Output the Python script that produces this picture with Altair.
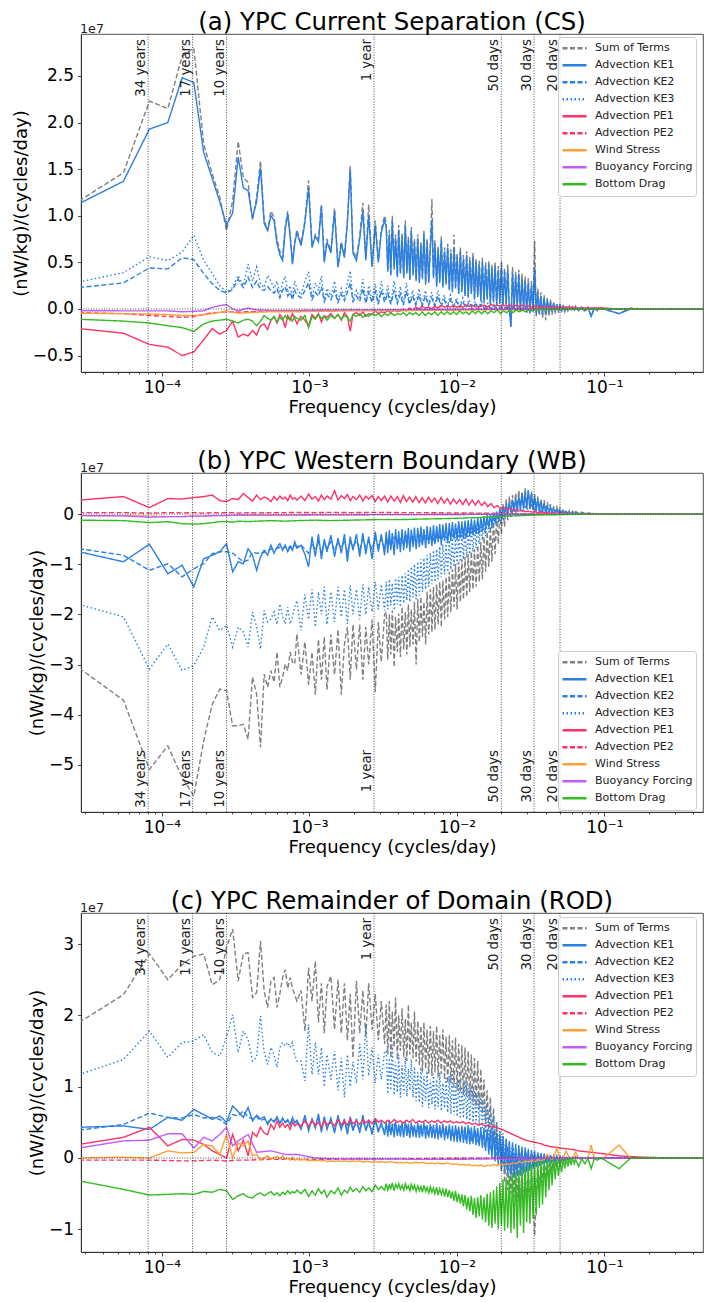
import altair as alt
import pandas as pd

# Spectral energy budget terms, in units of 1e7 (nW/kg)/(cycles/day).
# Frequencies are harmonics k / RECORD_DAYS of a 100-year record.
RECORD_DAYS = 36500.0

K_FINE = [
    1, 2, 3, 4, 5, 6, 7, 8, 9, 10,
    11, 12, 13, 14, 15, 16, 17, 18, 19, 20,
    21, 22, 23, 24, 25, 26, 27, 28, 29, 30,
    32, 34, 36, 38, 40, 42, 44, 46, 48,
    51, 54, 57, 60, 63, 66, 69, 72,
    76, 80, 84, 88, 92, 97, 102, 107, 112, 118,
    124, 130, 137, 144, 151, 158, 166, 174, 183, 192,
    202, 212, 223, 234, 246, 258, 271, 285, 299, 314,
    330, 346, 363, 381, 400, 420, 441, 463, 486, 510,
    536, 563, 591, 621, 652, 685, 719, 755, 793, 833,
    875, 919, 965, 1013, 1064, 1117, 1173, 1232, 1294, 1359,
    1427, 1498, 1573, 1652, 1735, 1822, 1913, 2009, 2109, 2214,
    2325, 2441, 2563, 2691, 2826, 2967, 3115, 3271, 3435, 3607,
    4580, 5500, 7000, 9000, 11500, 14500, 17300,
]
# Denser sampling of the 1/year .. 1/16-day band for the most energetic terms
K_BAND = [
    121, 124, 127, 130, 133, 137, 140, 144, 147, 151,
    155, 159, 163, 167, 171, 175, 179, 184, 188, 193,
    198, 203, 208, 213, 218, 224, 229, 235, 241, 247,
    253, 259, 266, 272, 279, 286, 293, 301, 308, 316,
    324, 332, 340, 349, 357, 366, 375, 385, 394, 404,
    414, 425, 435, 446, 457, 469, 480, 492, 505, 517,
    530, 543, 557, 571, 585, 600, 615, 630, 646, 662,
    679, 696, 713, 731, 749, 768, 787, 807, 827, 848,
    869, 891, 913, 936, 959, 983, 1008, 1033, 1059, 1085,
    1112, 1140, 1169, 1198, 1228, 1259, 1290, 1322, 1355, 1389,
    1424, 1460, 1496, 1534, 1572, 1611, 1652, 1693, 1735, 1779,
    1823, 1869, 1916, 1964, 2013, 2063, 2115, 2168, 2222, 2278,
]
K_DENSE = K_FINE[:57] + K_BAND + K_FINE[117:]
K_COARSE = [1, 2, 3, 4, 5, 6, 7, 8, 9, 10, 11, 12, 14, 16, 20, 25, 30, 40, 50, 70,
            100, 150, 200, 300, 500, 800, 1200, 1800, 2600, 3650, 6000, 17300]

TERMS = ["Sum of Terms", "Advection KE1", "Advection KE2", "Advection KE3",
         "Advection PE1", "Advection PE2", "Wind Stress", "Buoyancy Forcing", "Bottom Drag"]
TERM_COLORS = ["#808080", "#2a7fe2", "#2a7fe2", "#2a7fe2", "#ff3366", "#ff3366",
               "#ffa033", "#bd5cff", "#33bb22"]
TERM_DASHES = [[5, 2.5], [1, 0], [5, 2.5], [1.5, 2.5], [1, 0], [5, 2.5], [1, 0], [1, 0], [1, 0]]

PERIOD_DAYS = [12410, 6205, 3650, 365, 50, 30, 20]
PERIOD_LABELS = ["34 years", "17 years", "10 years", "1 year", "50 days", "30 days", "20 days"]

# ---------------- (a) Current Separation ----------------
A_SUM_LOW = [
    1.16, 1.46, 2.23, 2.15, 2.71, 2.80, 1.77, 1.45, 1.20, 0.84,
    1.16, 1.80, 1.41, 1.36, 0.95, 1.20, 1.59, 0.95, 0.84, 1.05,
    0.98, 0.75, 0.62, 0.55, 0.88, 1.05, 0.80, 0.50, 0.72, 0.85,
    0.70, 0.95, 1.38, 0.68, 0.80, 0.75, 1.12, 0.52, 0.75,
    0.62, 1.08, 0.45, 0.72, 0.58, 0.95, 1.53, 0.62,
    0.55, 0.78, 1.14, 0.55, 1.12, 0.48, 0.95, 0.52, 0.85, 1.00,
]
A_SUM_BAND = [
    0.92, 0.42, 0.85, 0.38, 1.00, 0.45, 0.80, 0.36, 0.90, 0.40,
    0.82, 0.35, 0.95, 0.40, 0.78, 0.33, 0.88, 0.38, 0.75, 0.32,
    0.80, 0.30, 0.72, 0.34, 0.85, 0.28, 0.76, 0.30, 0.70, 1.18,
    0.35, 0.74, 0.26, 0.68, 0.30, 0.78, 0.25, 0.66, 0.28, 0.70,
    0.22, 0.64, 0.20, 0.80, 0.24, 0.60, 0.18, 0.66, 0.20, 0.58,
    0.16, 0.62, 0.14, 0.56, 0.18, 0.60, 0.12, 0.54, 0.15, 0.52,
    0.10, 0.55, 0.08, 0.50, 0.12, 0.52, 0.06, 0.48, 0.09, 0.50,
    0.05, 0.46, 0.07, 0.52, 0.04, 0.44, 0.06, 0.48, 0.02, -0.19,
    0.45, 0.00, 0.40, 0.02, 0.42, -0.03, 0.38, 0.00, 0.35, -0.04,
    0.33, -0.05, 0.30, -0.03, 0.73, -0.08, 0.22, -0.06, 0.18, -0.10,
    0.15, -0.12, 0.12, -0.08, 0.10, -0.06, 0.08, -0.05, 0.06, -0.04,
    0.05, -0.03, 0.04, -0.03, 0.03, -0.02, 0.03, -0.02, 0.02, -0.02,
]
A_SUM_HIGH = [0.03, -0.02, 0.02, -0.03, 0.02, -0.08, 0.01, -0.02, 0.01, 0.00,
              -0.05, 0.01, 0.00, 0.00, 0.00, 0.00, 0.00]

A_KE1_LOW = [
    1.13, 1.37, 1.93, 2.00, 2.48, 2.43, 1.68, 1.40, 1.15, 0.90,
    1.03, 1.63, 1.30, 1.27, 0.98, 1.15, 1.52, 0.92, 0.84, 1.00,
    0.95, 0.70, 0.58, 0.52, 0.85, 1.02, 0.78, 0.48, 0.70, 0.82,
    0.68, 0.92, 1.30, 0.66, 0.78, 0.72, 1.10, 0.50, 0.72,
    0.60, 1.05, 0.45, 0.70, 0.55, 0.92, 1.50, 0.60,
    0.52, 0.75, 1.05, 0.52, 1.00, 0.45, 0.90, 0.50, 0.82, 0.95,
]
A_KE1_BAND = [
    0.88, 0.40, 0.80, 0.36, 0.95, 0.42, 0.76, 0.34, 0.85, 0.38,
    0.78, 0.33, 0.90, 0.38, 0.74, 0.31, 0.84, 0.36, 0.72, 0.30,
    0.76, 0.28, 0.68, 0.32, 0.80, 0.26, 0.72, 0.28, 0.66, 0.95,
    0.33, 0.70, 0.24, 0.64, 0.28, 0.74, 0.23, 0.62, 0.26, 0.66,
    0.20, 0.60, 0.18, 0.65, 0.22, 0.56, 0.16, 0.62, 0.18, 0.54,
    0.14, 0.58, 0.12, 0.52, 0.16, 0.56, 0.10, 0.50, 0.13, 0.48,
    0.08, 0.50, 0.06, 0.46, 0.10, 0.48, 0.05, 0.44, 0.07, 0.46,
    0.04, 0.42, 0.05, 0.46, 0.03, 0.40, 0.04, 0.42, 0.01, -0.19,
    0.40, -0.01, 0.36, 0.01, 0.38, -0.03, 0.33, -0.01, 0.30, -0.04,
    0.28, -0.04, 0.25, -0.03, 0.45, -0.06, 0.18, -0.05, 0.14, -0.06,
    0.12, -0.05, 0.10, -0.04, 0.08, -0.03, 0.06, -0.03, 0.05, -0.02,
    0.04, -0.02, 0.03, -0.02, 0.02, -0.01, 0.02, -0.01, 0.02, -0.01,
]
A_KE1_HIGH = [0.02, -0.01, 0.02, -0.02, 0.01, -0.08, 0.01, -0.01, 0.01, 0.00,
              -0.05, 0.00, 0.00, 0.00, 0.00, 0.00, 0.00]

A_KE2 = [
    0.23, 0.28, 0.44, 0.43, 0.55, 0.53, 0.38, 0.27, 0.20, 0.17,
    0.21, 0.32, 0.23, 0.34, 0.23, 0.30, 0.21, 0.20, 0.24, 0.20,
    0.17, 0.22, 0.12, 0.20, 0.24, 0.14, 0.18, 0.10, 0.20, 0.15,
    0.12, 0.20, 0.28, 0.10, 0.18, 0.14, 0.24, 0.08, 0.16,
    0.10, 0.20, 0.07, 0.16, 0.09, 0.18, 0.28, 0.08,
    0.14, 0.08, 0.22, 0.06, 0.18, 0.07, 0.19, 0.05, 0.20, 0.07,
    0.17, 0.05, 0.20, 0.06, 0.16, 0.04, 0.19, 0.05, 0.14, 0.04,
    0.15, 0.03, 0.14, 0.04, 0.12, 0.03, 0.14, 0.03, 0.10, 0.02,
    0.10, 0.02, 0.08, 0.02, 0.08, 0.01, 0.07, 0.01, 0.05, 0.01,
    0.05, 0.00, 0.04, 0.00, 0.03, 0.00, 0.03, 0.00, 0.02, 0.00,
    0.02, 0.00, 0.01, 0.00, 0.01, 0.00, 0.01, 0.00, 0.01, 0.00,
    0.00, 0.00, 0.00, 0.00, 0.00, 0.00, 0.00, 0.00, 0.00, 0.00,
    0.00, 0.00, 0.00, 0.00, 0.00, 0.00, 0.00, 0.00, 0.00, 0.00,
    0.00, 0.00, 0.00, 0.00, 0.00, 0.00, 0.00,
]
A_KE3 = [
    0.29, 0.39, 0.56, 0.52, 0.61, 0.79, 0.52, 0.38, 0.25, 0.18,
    0.23, 0.36, 0.25, 0.48, 0.30, 0.45, 0.27, 0.23, 0.36, 0.30,
    0.22, 0.30, 0.15, 0.28, 0.35, 0.18, 0.25, 0.12, 0.30, 0.22,
    0.15, 0.30, 0.40, 0.12, 0.28, 0.20, 0.35, 0.10, 0.22,
    0.14, 0.30, 0.08, 0.22, 0.12, 0.28, 0.41, 0.10,
    0.20, 0.12, 0.32, 0.08, 0.25, 0.10, 0.27, 0.06, 0.30, 0.10,
    0.25, 0.06, 0.30, 0.08, 0.24, 0.05, 0.28, 0.06, 0.20, 0.05,
    0.22, 0.04, 0.20, 0.05, 0.18, 0.03, 0.20, 0.04, 0.15, 0.03,
    0.15, 0.02, 0.12, 0.03, 0.12, 0.02, 0.10, 0.02, 0.08, 0.01,
    0.08, 0.01, 0.06, 0.00, 0.05, 0.01, 0.04, 0.00, 0.03, 0.00,
    0.03, 0.00, 0.02, 0.00, 0.02, 0.00, 0.01, 0.00, 0.01, 0.00,
    0.01, 0.00, 0.00, 0.00, 0.00, 0.00, 0.00, 0.00, 0.00, 0.00,
    0.00, 0.00, 0.00, 0.00, 0.00, 0.00, 0.00, 0.00, 0.00, 0.00,
    0.00, 0.00, 0.00, 0.00, 0.00, 0.00, 0.00,
]
A_PE1 = [
    -0.21, -0.26, -0.38, -0.41, -0.50, -0.46, -0.33, -0.21, -0.27, -0.23,
    -0.13, -0.30, -0.27, -0.29, -0.23, -0.28, -0.18, -0.16, -0.22, -0.12,
    -0.08, -0.15, -0.06, -0.10, -0.20, -0.07, -0.12, -0.05, -0.10, -0.16,
    -0.08, -0.12, -0.18, -0.06, -0.10, -0.05, -0.14, -0.07, -0.09,
    -0.05, -0.10, -0.06, -0.12, -0.04, -0.08, -0.24, -0.06,
    -0.04, -0.07, -0.03, -0.08, -0.05, -0.06, -0.02, -0.05, -0.03, -0.04,
    -0.02, -0.04, -0.01, -0.03, -0.02, 0.00, -0.02, 0.01, -0.01, 0.02,
    0.00, 0.03, 0.01, 0.02, 0.00, 0.03, 0.01, 0.04, 0.02, 0.03,
    0.02, 0.04, 0.02, 0.03, 0.02, 0.04, 0.03, 0.04, 0.02, 0.03,
    0.03, 0.04, 0.02, 0.05, 0.03, 0.04, 0.03, 0.04, 0.03, 0.04,
    0.03, 0.04, 0.03, 0.04, 0.03, 0.03, 0.02, 0.03, 0.03, 0.02,
    0.02, 0.03, 0.02, 0.02, 0.02, 0.02, 0.02, 0.02, 0.02, 0.02,
    0.01, 0.01, 0.01, 0.01, 0.01, 0.01, 0.01, 0.01, 0.01, 0.01,
    0.00, 0.00, 0.00, 0.00, 0.00, 0.00, 0.00,
]
A_DRAG = [
    -0.11, -0.13, -0.15, -0.18, -0.20, -0.24, -0.16, -0.13, -0.12, -0.11,
    -0.13, -0.15, -0.12, -0.11, -0.13, -0.18, -0.13, -0.07, -0.10, -0.12,
    -0.08, -0.14, -0.09, -0.12, -0.07, -0.11, -0.09, -0.13, -0.08, -0.10,
    -0.12, -0.07, -0.20, -0.08, -0.11, -0.06, -0.10, -0.08, -0.12,
    -0.07, -0.10, -0.06, -0.11, -0.07, -0.09, -0.13, -0.06,
    -0.08, -0.05, -0.09, -0.06, -0.08, -0.05, -0.07, -0.05, -0.08, -0.05,
    -0.07, -0.04, -0.07, -0.05, -0.06, -0.04, -0.07, -0.04, -0.06, -0.04,
    -0.07, -0.03, -0.07, -0.04, -0.06, -0.03, -0.07, -0.03, -0.06, -0.03,
    -0.06, -0.03, -0.06, -0.02, -0.05, -0.03, -0.06, -0.02, -0.05, -0.02,
    -0.05, -0.02, -0.05, -0.02, -0.04, -0.01, -0.05, -0.02, -0.04, -0.01,
    -0.04, -0.01, -0.03, -0.01, -0.03, -0.01, -0.02, 0.00, -0.02, 0.00,
    -0.01, 0.00, -0.01, 0.00, 0.00, 0.00, 0.00, 0.00, 0.00, 0.00,
    0.00, 0.00, 0.00, 0.00, 0.00, 0.00, 0.00, 0.00, 0.00, 0.00,
    0.00, 0.00, 0.00, 0.00, 0.00, 0.00, 0.00,
]
A_PE2 = [-0.04, -0.05, -0.07, -0.08, -0.09, -0.08, -0.06, -0.04, -0.035, -0.03,
         -0.03, -0.035, -0.03, -0.025, -0.02, -0.02, -0.02, -0.015, -0.015, -0.01,
         -0.01, -0.01, -0.005, -0.005, 0.0, 0.0, 0.0, 0.0, 0.0, 0.0, 0.0, 0.0]
A_WIND = [-0.046, -0.05, -0.054, -0.06, -0.07, -0.07, -0.06, -0.05, -0.036, -0.02,
          -0.035, -0.045, -0.04, -0.035, -0.03, -0.03, -0.03, -0.025, -0.025, -0.02,
          -0.02, -0.02, -0.015, -0.015, -0.01, -0.01, -0.005, -0.005, 0.0, 0.0, 0.0, 0.0]
A_BUOY = [-0.018, -0.02, -0.02, -0.02, -0.03, -0.025, -0.02, 0.018, 0.036, 0.046,
          0.0, -0.02, 0.01, -0.01, -0.015, -0.015, -0.015, -0.012, -0.01, -0.01,
          -0.01, -0.008, -0.006, -0.005, -0.004, -0.003, -0.002, 0.0, 0.0, 0.0, 0.0, 0.0]

# ---------------- (b) Western Boundary ----------------
B_SUM_LOW = [
    -3.07, -3.71, -5.09, -4.62, -5.25, -5.62, -4.52, -3.79, -3.49, -3.52,
    -4.22, -4.22, -4.19, -4.49, -3.25, -3.59, -4.65, -3.19, -3.45, -3.12,
    -3.35, -2.75, -3.45, -3.25, -2.99, -3.12, -2.75, -2.95, -2.99, -2.39,
    -3.20, -2.55, -3.40, -2.75, -3.60, -2.50, -3.30, -2.45, -3.50,
    -2.40, -3.20, -2.30, -3.60, -2.60, -2.25, -3.30, -2.20,
    -3.10, -2.20, -3.30, -2.25, -3.00, -2.10, -3.55, -2.15, -2.95, -2.00,
]
B_SUM_BAND = [
    -1.95, -2.90, -2.00, -2.80, -1.92, -3.05, -2.05, -2.75, -1.98, -2.85,
    -1.85, -2.70, -1.95, -2.80, -1.80, -2.65, -1.90, -2.60, -1.75, -3.00,
    -1.70, -2.55, -1.65, -2.45, -1.75, -2.60, -1.55, -2.40, -1.50, -2.35,
    -1.45, -2.30, -1.40, -2.20, -1.35, -2.25, -1.32, -2.10, -1.25, -2.05,
    -1.15, -1.95, -1.10, -1.85, -1.00, -1.90, -0.95, -1.75, -0.90, -1.70,
    -0.85, -1.65, -0.80, -1.55, -0.75, -1.50, -0.70, -1.45, -0.62, -1.35,
    -0.55, -1.30, -0.45, -1.15, -0.35, -1.05, -0.25, -0.95, -0.15, -0.80,
    -0.05, -0.60, 0.10, -0.40, 0.20, -0.25, 0.30, -0.12, 0.35, -0.05,
    0.38, 0.05, 0.42, 0.08, 0.48, 0.10, 0.45, 0.12, 0.52, 0.15,
    0.48, 0.12, 0.45, 0.10, 0.40, 0.08, 0.35, 0.06, 0.30, 0.05,
    0.28, 0.04, 0.24, 0.05, 0.20, 0.03, 0.16, 0.04, 0.14, 0.02,
    0.12, 0.03, 0.10, 0.02, 0.08, 0.02, 0.07, 0.01, 0.06, 0.01,
]
B_SUM_HIGH = [0.05, 0.02, 0.04, 0.01, 0.03, 0.01, 0.02, 0.01, 0.01, 0.00,
              0.00, 0.00, 0.00, 0.00, 0.00, 0.00, 0.00]

B_KE1_LOW = [
    -0.75, -0.95, -0.60, -1.19, -1.02, -1.45, -0.89, -0.82, -0.75, -0.59,
    -1.15, -0.95, -0.99, -0.69, -0.82, -1.12, -0.85, -0.72, -0.82, -0.62,
    -0.78, -0.66, -0.59, -0.72, -0.62, -0.75, -0.65, -0.72, -0.55, -0.68,
    -0.62, -0.80, -1.05, -0.45, -0.85, -0.40, -0.90, -0.50, -0.75,
    -0.42, -0.85, -0.48, -0.78, -0.40, -0.95, -0.45, -0.72,
    -0.40, -0.85, -0.38, -0.80, -0.45, -0.90, -0.35, -0.75, -0.40, -0.82,
]
B_KE1_BAND = [
    -0.35, -0.78, -0.32, -0.72, -0.38, -0.82, -0.30, -0.70, -0.34, -0.76,
    -0.30, -0.72, -0.33, -0.68, -0.28, -0.75, -0.31, -0.66, -0.27, -0.70,
    -0.28, -0.66, -0.25, -0.62, -0.30, -0.68, -0.24, -0.60, -0.26, -0.64,
    -0.22, -0.60, -0.24, -0.56, -0.20, -0.62, -0.21, -0.54, -0.18, -0.58,
    -0.18, -0.54, -0.16, -0.50, -0.19, -0.52, -0.14, -0.48, -0.15, -0.50,
    -0.13, -0.46, -0.12, -0.44, -0.10, -0.42, -0.11, -0.40, -0.08, -0.38,
    -0.06, -0.35, -0.04, -0.30, -0.02, -0.26, 0.00, -0.20, 0.03, -0.15,
    0.05, -0.10, 0.10, -0.05, 0.15, 0.00, 0.20, 0.02, 0.25, 0.04,
    0.28, 0.05, 0.32, 0.06, 0.36, 0.08, 0.40, 0.10, 0.44, 0.12,
    0.48, 0.10, 0.42, 0.08, 0.36, 0.06, 0.30, 0.05, 0.26, 0.04,
    0.22, 0.03, 0.18, 0.03, 0.14, 0.02, 0.11, 0.02, 0.09, 0.01,
    0.07, 0.01, 0.06, 0.01, 0.05, 0.00, 0.04, 0.00, 0.03, 0.00,
]
B_KE1_HIGH = [0.04, 0.00, 0.03, 0.00, 0.02, 0.00, 0.01, 0.00, 0.01, 0.00,
              0.00, 0.00, 0.00, 0.00, 0.00, 0.00, 0.00]

B_KE2 = [
    -0.69, -0.82, -1.12, -0.99, -1.25, -1.09, -0.99, -0.79, -0.75, -0.75,
    -0.78, -0.87, -0.95, -0.92, -0.76, -0.78, -0.78, -0.76, -0.72, -0.70,
    -0.70, -0.68, -0.66, -0.68, -0.65, -0.70, -0.64, -0.66, -0.63, -0.65,
    -0.62, -0.70, -0.78, -0.58, -0.72, -0.55, -0.75, -0.58, -0.68,
    -0.55, -0.72, -0.56, -0.68, -0.52, -0.75, -0.55, -0.66,
    -0.52, -0.70, -0.50, -0.66, -0.54, -0.70, -0.48, -0.64, -0.50, -0.66,
    -0.48, -0.64, -0.46, -0.60, -0.50, -0.62, -0.44, -0.58, -0.46, -0.60,
    -0.42, -0.58, -0.40, -0.54, -0.43, -0.55, -0.38, -0.52, -0.40, -0.50,
    -0.33, -0.48, -0.30, -0.44, -0.28, -0.45, -0.26, -0.40, -0.24, -0.38,
    -0.22, -0.34, -0.18, -0.28, -0.12, -0.20, -0.05, -0.10, 0.02, -0.02,
    0.08, 0.04, 0.12, 0.06, 0.15, 0.08, 0.18, 0.08, 0.12, 0.05,
    0.08, 0.03, 0.06, 0.02, 0.05, 0.02, 0.03, 0.01, 0.02, 0.01,
    0.01, 0.00, 0.00, 0.00, 0.00, 0.00, 0.00, 0.00, 0.00, 0.00,
    0.00, 0.00, 0.00, 0.00, 0.00, 0.00, 0.00,
]

B_KE3_LOW = [
    -1.80, -2.05, -3.09, -2.59, -3.12, -3.02, -2.65, -2.05, -2.32, -2.22,
    -2.65, -2.25, -2.35, -2.65, -1.95, -2.25, -2.69, -1.92, -2.15, -2.09,
    -1.95, -2.20, -1.79, -2.05, -2.19, -1.85, -2.19, -2.05, -1.85, -1.72,
    -2.32, -1.60, -2.10, -1.50, -2.25, -1.55, -2.00, -1.45, -2.20,
    -1.55, -2.15, -1.45, -2.05, -1.50, -2.19, -1.42, -2.00,
    -1.50, -2.10, -1.40, -2.00, -1.45, -1.95, -1.35, -1.90, -1.40, -1.92,
]
B_KE3_BAND = [
    -1.35, -1.90, -1.30, -1.82, -1.38, -1.92, -1.28, -1.80, -1.25, -1.85,
    -1.22, -1.78, -1.18, -1.72, -1.10, -1.75, -1.05, -1.66, -1.00, -1.70,
    -0.95, -1.62, -0.90, -1.55, -0.88, -1.50, -0.82, -1.45, -0.78, -1.40,
    -0.72, -1.35, -0.70, -1.30, -0.65, -1.26, -0.60, -1.20, -0.55, -1.15,
    -0.52, -1.10, -0.48, -1.05, -0.45, -1.00, -0.40, -0.95, -0.36, -0.90,
    -0.32, -0.86, -0.28, -0.80, -0.25, -0.75, -0.22, -0.68, -0.18, -0.60,
    -0.14, -0.52, -0.10, -0.44, -0.08, -0.36, -0.05, -0.28, -0.03, -0.20,
    -0.02, -0.14, 0.00, -0.10, 0.01, -0.06, 0.02, -0.05, 0.01, -0.04,
    0.02, -0.03, 0.02, -0.02, 0.01, -0.02, 0.01, -0.01, 0.01, -0.01,
    0.01, -0.01, 0.00, -0.01, 0.00, 0.00, 0.00, 0.00, 0.00, 0.00,
    0.00, 0.00, 0.00, 0.00, 0.00, 0.00, 0.00, 0.00, 0.00, 0.00,
    0.00, 0.00, 0.00, 0.00, 0.00, 0.00, 0.00, 0.00, 0.00, 0.00,
]
B_KE3_HIGH = [0.00] * 17

B_PE1 = [
    0.28, 0.35, 0.13, 0.31, 0.30, 0.33, 0.35, 0.38, 0.27, 0.25,
    0.31, 0.29, 0.41, 0.33, 0.26, 0.38, 0.29, 0.34, 0.31, 0.25,
    0.35, 0.28, 0.36, 0.30, 0.34, 0.27, 0.38, 0.30, 0.33, 0.28,
    0.36, 0.27, 0.40, 0.30, 0.35, 0.26, 0.38, 0.29, 0.36,
    0.30, 0.47, 0.28, 0.37, 0.31, 0.39, 0.27, 0.35,
    0.29, 0.38, 0.26, 0.36, 0.30, 0.37, 0.25, 0.35, 0.27, 0.36,
    0.24, 0.36, 0.26, 0.35, 0.23, 0.37, 0.25, 0.34, 0.24, 0.35,
    0.23, 0.33, 0.22, 0.34, 0.24, 0.32, 0.21, 0.33, 0.22, 0.31,
    0.20, 0.30, 0.21, 0.29, 0.19, 0.30, 0.18, 0.28, 0.18, 0.27,
    0.17, 0.24, 0.15, 0.21, 0.13, 0.17, 0.11, 0.14, 0.09, 0.11,
    0.08, 0.09, 0.06, 0.07, 0.05, 0.06, 0.04, 0.05, 0.03, 0.04,
    0.03, 0.03, 0.02, 0.02, 0.02, 0.02, 0.01, 0.01, 0.01, 0.01,
    0.01, 0.01, 0.01, 0.01, 0.01, 0.00, 0.00, 0.00, 0.00, 0.00,
    0.00, 0.00, 0.00, 0.00, 0.00, 0.00, 0.00,
]
B_PE2 = [0.03, 0.03, 0.02, 0.03, 0.025, 0.03, 0.02, 0.03, 0.025, 0.03,
         0.03, 0.02, 0.03, 0.025, 0.03, 0.03, 0.035, 0.03, 0.035, 0.03,
         0.035, 0.03, 0.03, 0.025, 0.02, 0.01, 0.005, 0.0, 0.0, 0.0, 0.0, 0.0]
B_WIND = [-0.03, -0.03, -0.04, -0.05, -0.05, -0.04, -0.04, -0.03, -0.03, -0.025,
          -0.025, -0.02, -0.02, -0.02, -0.02, -0.02, -0.02, -0.015, -0.015, -0.015,
          -0.01, -0.01, -0.01, -0.008, -0.005, -0.003, -0.001, 0.0, 0.0, 0.0, 0.0, 0.0]
B_BUOY = [-0.03, -0.035, -0.06, -0.05, -0.05, -0.04, -0.04, -0.03, -0.03, -0.03,
          -0.025, -0.025, -0.02, -0.02, -0.02, -0.02, -0.02, -0.015, -0.015, -0.015,
          -0.01, -0.01, -0.01, -0.008, -0.005, -0.003, -0.001, 0.0, 0.0, 0.0, 0.0, 0.0]
B_DRAG = [-0.12, -0.13, -0.17, -0.15, -0.19, -0.20, -0.19, -0.17, -0.15, -0.15,
          -0.16, -0.14, -0.15, -0.14, -0.13, -0.14, -0.13, -0.12, -0.13, -0.12,
          -0.11, -0.11, -0.10, -0.09, -0.07, -0.04, -0.02, -0.01, 0.0, 0.0, 0.0, 0.0]

# ---------------- (c) Remainder of Domain ----------------
C_SUM_LOW = [
    1.90, 2.29, 2.86, 2.50, 2.71, 2.83, 2.86, 2.43, 2.50, 2.95,
    3.21, 2.48, 2.86, 2.88, 2.25, 2.32, 3.04, 2.34, 2.11, 2.48,
    2.53, 2.11, 2.30, 2.53, 2.64, 2.38, 2.53, 2.38, 2.29, 2.20,
    2.35, 1.78, 2.67, 2.20, 2.76, 1.90, 2.45, 1.75, 2.40,
    2.55, 1.80, 2.50, 1.75, 2.45, 1.65, 2.30, 1.40,
    2.48, 1.75, 2.35, 1.70, 2.45, 1.80, 2.30, 1.65, 2.20, 1.60,
]
C_SUM_BAND = [
    2.15, 1.45, 2.20, 1.40, 2.05, 1.55, 2.25, 1.38, 2.00, 1.50,
    2.10, 1.42, 1.95, 1.36, 2.15, 1.45, 1.90, 1.40, 2.05, 1.35,
    1.92, 1.30, 1.85, 1.20, 1.90, 1.25, 1.80, 1.18, 1.85, 1.15,
    1.78, 1.20, 1.85, 1.13, 1.72, 1.18, 1.80, 1.10, 1.70, 1.05,
    1.72, 1.05, 1.65, 1.00, 1.69, 0.95, 1.60, 0.92, 1.58, 0.88,
    1.55, 0.86, 1.50, 0.82, 1.45, 0.78, 1.40, 0.72, 1.36, 0.68,
    1.25, 0.62, 1.10, 0.50, 0.95, 0.40, 0.85, 0.25, 0.70, 0.15,
    0.50, -0.05, 0.35, -0.20, 0.20, -0.35, 0.10, -0.45, 0.05, -0.50,
    0.05, -0.55, 0.00, -0.62, -0.05, -0.70, -0.08, -0.72, -0.10, -0.65,
    -0.12, -0.70, -0.15, -0.60, -1.09, -0.55, -0.10, -0.45, -0.05, -0.35,
    0.02, -0.30, 0.03, -0.25, 0.04, -0.18, 0.03, -0.12, 0.02, -0.08,
    0.02, -0.05, 0.02, -0.04, 0.01, -0.03, 0.01, -0.02, 0.01, -0.02,
]
C_SUM_HIGH = [0.02, -0.03, 0.01, -0.02, 0.01, -0.01, 0.01, -0.01, 0.00, 0.00,
              0.00, 0.00, 0.00, 0.00, 0.00, 0.00, 0.00]

C_KE1_LOW = [
    0.43, 0.45, 0.40, 0.57, 0.53, 0.68, 0.61, 0.54, 0.59, 0.50,
    0.73, 0.65, 0.57, 0.71, 0.52, 0.60, 0.55, 0.58, 0.47, 0.55,
    0.50, 0.58, 0.48, 0.56, 0.50, 0.54, 0.46, 0.57, 0.49, 0.53,
    0.40, 0.60, 0.38, 0.55, 0.42, 0.62, 0.36, 0.58, 0.40,
    0.56, 0.35, 0.60, 0.40, 0.55, 0.33, 0.58, 0.38,
    0.55, 0.35, 0.60, 0.38, 0.52, 0.33, 0.56, 0.36, 0.50, 0.32,
]
C_KE1_BAND = [
    0.50, 0.30, 0.53, 0.32, 0.48, 0.29, 0.51, 0.31, 0.47, 0.30,
    0.50, 0.29, 0.52, 0.31, 0.48, 0.28, 0.50, 0.30, 0.46, 0.29,
    0.49, 0.28, 0.47, 0.30, 0.50, 0.27, 0.46, 0.29, 0.48, 0.28,
    0.47, 0.27, 0.49, 0.26, 0.46, 0.28, 0.48, 0.25, 0.45, 0.27,
    0.47, 0.24, 0.45, 0.23, 0.46, 0.22, 0.44, 0.22, 0.45, 0.21,
    0.44, 0.20, 0.46, 0.19, 0.43, 0.20, 0.45, 0.18, 0.42, 0.17,
    0.43, 0.14, 0.42, 0.10, 0.41, 0.05, 0.40, 0.00, 0.38, -0.05,
    0.35, -0.10, 0.32, -0.15, 0.30, -0.18, 0.26, -0.22, 0.24, -0.25,
    0.22, -0.28, 0.20, -0.26, 0.18, -0.25, 0.16, -0.22, 0.15, -0.20,
    0.13, -0.18, 0.11, -0.15, 0.10, -0.13, 0.08, -0.11, 0.07, -0.09,
    0.06, -0.07, 0.05, -0.06, 0.04, -0.05, 0.03, -0.04, 0.03, -0.03,
    0.02, -0.02, 0.02, -0.02, 0.01, -0.01, 0.01, -0.01, 0.01, 0.00,
]
C_KE1_HIGH = [0.01, 0.00, 0.00, 0.00, 0.00, 0.00, 0.00, 0.00, 0.00, 0.00,
              0.00, 0.00, 0.00, 0.00, 0.00, 0.00, 0.00]

C_KE2 = [
    0.39, 0.47, 0.63, 0.57, 0.56, 0.61, 0.56, 0.57, 0.54, 0.47,
    0.61, 0.59, 0.66, 0.57, 0.55, 0.58, 0.52, 0.55, 0.50, 0.54,
    0.52, 0.55, 0.50, 0.53, 0.50, 0.52, 0.49, 0.53, 0.50, 0.51,
    0.44, 0.54, 0.42, 0.52, 0.45, 0.55, 0.41, 0.52, 0.44,
    0.50, 0.40, 0.52, 0.42, 0.50, 0.39, 0.51, 0.41,
    0.49, 0.40, 0.52, 0.41, 0.48, 0.38, 0.50, 0.40, 0.46, 0.37,
    0.46, 0.35, 0.47, 0.36, 0.44, 0.34, 0.45, 0.35, 0.43, 0.34,
    0.44, 0.33, 0.43, 0.32, 0.44, 0.33, 0.41, 0.32, 0.42, 0.31,
    0.40, 0.28, 0.39, 0.27, 0.38, 0.25, 0.39, 0.23, 0.36, 0.22,
    0.35, 0.18, 0.32, 0.10, 0.30, 0.02, 0.22, -0.08, 0.18, -0.12,
    0.14, -0.15, 0.12, -0.16, 0.10, -0.12, 0.07, -0.09, 0.05, -0.06,
    0.03, -0.04, 0.02, -0.03, 0.02, -0.02, 0.01, -0.01, 0.01, 0.00,
    0.00, 0.00, 0.00, 0.00, 0.00, 0.00, 0.00, 0.00, 0.00, 0.00,
    0.00, 0.00, 0.00, 0.00, 0.00, 0.00, 0.00,
]

C_KE3_LOW = [
    1.17, 1.38, 1.78, 1.41, 1.62, 1.64, 1.73, 1.48, 1.43, 1.69,
    2.01, 1.48, 1.78, 1.66, 1.36, 1.41, 1.99, 1.48, 1.31, 1.55,
    1.45, 1.27, 1.55, 1.62, 1.57, 1.62, 1.55, 1.62, 1.45, 1.36,
    1.36, 1.08, 1.87, 1.17, 1.62, 1.17, 1.55, 1.00, 1.45,
    1.10, 1.50, 0.95, 1.40, 0.85, 1.45, 1.00, 1.35,
    1.05, 1.60, 1.10, 1.87, 1.15, 1.55, 1.05, 1.45, 1.10, 1.50,
]
C_KE3_BAND = [
    1.50, 0.90, 1.40, 0.95, 1.59, 0.88, 1.35, 0.92, 1.45, 0.85,
    1.30, 0.90, 1.42, 0.86, 1.25, 0.95, 1.38, 0.85, 1.28, 0.80,
    1.20, 0.78, 1.27, 0.72, 1.15, 0.80, 1.22, 0.70, 1.10, 0.75,
    1.18, 0.68, 1.10, 0.72, 1.20, 0.66, 1.05, 0.70, 1.12, 0.64,
    1.15, 0.62, 1.22, 0.60, 1.05, 0.58, 1.10, 0.55, 1.00, 0.56,
    1.08, 0.54, 0.98, 0.52, 1.02, 0.50, 0.95, 0.48, 0.92, 0.45,
    0.88, 0.40, 0.82, 0.35, 0.75, 0.30, 0.68, 0.25, 0.60, 0.20,
    0.50, 0.12, 0.42, 0.08, 0.35, 0.04, 0.28, 0.00, 0.22, -0.03,
    0.18, -0.05, 0.14, -0.06, 0.10, -0.04, 0.08, -0.03, 0.06, -0.02,
    0.05, -0.02, 0.04, -0.01, 0.03, -0.01, 0.02, 0.00, 0.01, 0.00,
    0.01, 0.00, 0.01, 0.00, 0.00, 0.00, 0.00, 0.00, 0.00, 0.00,
    0.00, 0.00, 0.00, 0.00, 0.00, 0.00, 0.00, 0.00, 0.00, 0.00,
]
C_KE3_HIGH = [0.00] * 17

C_PE1 = [
    0.19, 0.29, 0.43, 0.17, 0.26, 0.25, 0.19, 0.10, 0.05, 0.00,
    0.33, 0.10, 0.25, 0.03, 0.36, 0.30, 0.43, 0.35, 0.33, 0.47,
    0.40, 0.52, 0.43, 0.49, 0.43, 0.47, 0.40, 0.50, 0.45, 0.48,
    0.45, 0.52, 0.44, 0.53, 0.46, 0.50, 0.43, 0.52, 0.47,
    0.50, 0.45, 0.54, 0.47, 0.52, 0.46, 0.55, 0.48,
    0.52, 0.47, 0.54, 0.49, 0.53, 0.48, 0.55, 0.50, 0.53, 0.49,
    0.53, 0.49, 0.54, 0.50, 0.52, 0.49, 0.53, 0.50, 0.54, 0.49,
    0.52, 0.50, 0.53, 0.49, 0.52, 0.50, 0.53, 0.49, 0.52, 0.50,
    0.52, 0.49, 0.51, 0.49, 0.51, 0.48, 0.50, 0.47, 0.49, 0.46,
    0.48, 0.45, 0.46, 0.44, 0.44, 0.42, 0.41, 0.39, 0.37, 0.35,
    0.33, 0.31, 0.29, 0.27, 0.25, 0.24, 0.23, 0.22, 0.21, 0.20,
    0.18, 0.17, 0.16, 0.155, 0.15, 0.14, 0.135, 0.13, 0.125, 0.12,
    0.11, 0.10, 0.095, 0.09, 0.085, 0.08, 0.075, 0.07, 0.065, 0.06,
    0.03, 0.02, 0.01, 0.004, 0.001, 0.00, 0.00,
]
C_WIND = [
    0.00, 0.01, 0.00, 0.10, 0.07, 0.08, 0.19, 0.17, 0.05, 0.33,
    0.00, 0.21, 0.17, 0.24, 0.03, 0.05, -0.02, 0.00, 0.03, -0.02,
    0.01, 0.02, -0.01, 0.03, -0.02, 0.00, -0.03, 0.01, -0.03, -0.02,
    -0.03, -0.02, -0.04, -0.03, -0.04, -0.03, -0.04, -0.03, -0.05,
    -0.04, -0.05, -0.04, -0.05, -0.04, -0.05, -0.05, -0.04,
    -0.05, -0.04, -0.06, -0.05, -0.05, -0.06, -0.05, -0.06, -0.05, -0.06,
    -0.06, -0.05, -0.06, -0.07, -0.06, -0.07, -0.06, -0.07, -0.07, -0.06,
    -0.07, -0.06, -0.07, -0.08, -0.07, -0.08, -0.07, -0.08, -0.08, -0.07,
    -0.08, -0.09, -0.08, -0.10, -0.09, -0.10, -0.09, -0.11, -0.10, -0.11,
    -0.10, -0.12, -0.10, -0.11, -0.09, -0.11, -0.08, -0.10, -0.08, -0.09,
    -0.07, -0.08, -0.05, -0.07, -0.04, -0.06, -0.03, -0.05, -0.02, -0.04,
    -0.02, 0.05, -0.02, -0.01, 0.14, -0.01, 0.00, 0.10, 0.00, -0.01,
    0.08, 0.00, 0.00, 0.00, 0.00, 0.18, 0.00, 0.00, 0.00, 0.00,
    0.18, 0.00, 0.00, 0.00, 0.00, 0.00, 0.00,
]

C_DRAG_LOW = [
    -0.32, -0.44, -0.52, -0.51, -0.50, -0.51, -0.47, -0.48, -0.44, -0.46,
    -0.58, -0.53, -0.50, -0.55, -0.56, -0.51, -0.49, -0.53, -0.50, -0.47,
    -0.52, -0.49, -0.53, -0.48, -0.51, -0.46, -0.50, -0.47, -0.49, -0.45,
    -0.50, -0.44, -0.54, -0.46, -0.52, -0.43, -0.50, -0.45, -0.55,
    -0.46, -0.50, -0.42, -0.52, -0.45, -0.49, -0.41, -0.47,
    -0.43, -0.48, -0.40, -0.46, -0.42, -0.47, -0.38, -0.44, -0.40, -0.45,
]
C_DRAG_BAND = [
    -0.36, -0.45, -0.38, -0.43, -0.35, -0.46, -0.37, -0.42, -0.36, -0.44,
    -0.38, -0.45, -0.36, -0.43, -0.39, -0.46, -0.37, -0.44, -0.38, -0.47,
    -0.39, -0.46, -0.40, -0.48, -0.38, -0.47, -0.41, -0.49, -0.40, -0.48,
    -0.42, -0.50, -0.41, -0.52, -0.43, -0.51, -0.44, -0.54, -0.43, -0.55,
    -0.45, -0.57, -0.47, -0.60, -0.46, -0.62, -0.50, -0.64, -0.51, -0.68,
    -0.52, -0.72, -0.55, -0.75, -0.53, -0.80, -0.56, -0.84, -0.55, -0.82,
    -0.52, -0.86, -0.55, -0.90, -0.50, -0.95, -0.48, -0.98, -0.45, -0.92,
    -0.40, -1.00, -0.35, -0.95, -0.30, -1.02, -0.28, -0.98, -0.25, -1.05,
    -0.22, -1.00, -0.20, -1.12, -0.18, -0.95, -0.15, -1.05, -0.12, -0.90,
    -0.10, -0.92, -0.08, -0.85, -0.06, -0.80, -0.05, -0.70, -0.04, -0.65,
    -0.03, -0.55, -0.02, -0.45, -0.02, -0.38, -0.01, -0.30, -0.01, -0.25,
    -0.02, -0.20, -0.01, -0.15, -0.01, -0.12, 0.00, -0.10, 0.00, -0.08,
]
C_DRAG_HIGH = [-0.02, -0.12, -0.01, -0.08, -0.01, -0.15, -0.01, -0.03, 0.00, -0.02,
               -0.15, 0.00, 0.00, 0.00, 0.00, 0.00, 0.00]

C_PE2 = [-0.03, -0.03, -0.03, -0.035, -0.04, -0.04, -0.035, -0.03, -0.035, -0.045,
         -0.035, -0.03, -0.03, -0.025, -0.02, -0.02, -0.02, -0.02, -0.02, -0.015,
         -0.015, -0.01, -0.01, -0.005, -0.003, 0.0, 0.0, 0.0, 0.0, 0.0, 0.0, 0.0]
C_BUOY = [0.14, 0.24, 0.25, 0.34, 0.34, 0.14, 0.29, 0.24, 0.33, 0.43,
          0.17, 0.24, 0.33, 0.08, 0.10, 0.05, 0.05, 0.00, -0.01, -0.015,
          -0.015, -0.015, -0.02, -0.02, -0.015, -0.01, -0.005, 0.0, 0.0, 0.0, 0.0, 0.0]


def dense(low, band, high):
    return low + band + high


PANEL_A = {
    "Sum of Terms": (K_DENSE, dense(A_SUM_LOW, A_SUM_BAND, A_SUM_HIGH)),
    "Advection KE1": (K_DENSE, dense(A_KE1_LOW, A_KE1_BAND, A_KE1_HIGH)),
    "Advection KE2": (K_FINE, A_KE2), "Advection KE3": (K_FINE, A_KE3),
    "Advection PE1": (K_FINE, A_PE1), "Advection PE2": (K_COARSE, A_PE2),
    "Wind Stress": (K_COARSE, A_WIND), "Buoyancy Forcing": (K_COARSE, A_BUOY),
    "Bottom Drag": (K_FINE, A_DRAG),
}
PANEL_B = {
    "Sum of Terms": (K_DENSE, dense(B_SUM_LOW, B_SUM_BAND, B_SUM_HIGH)),
    "Advection KE1": (K_DENSE, dense(B_KE1_LOW, B_KE1_BAND, B_KE1_HIGH)),
    "Advection KE2": (K_FINE, B_KE2),
    "Advection KE3": (K_DENSE, dense(B_KE3_LOW, B_KE3_BAND, B_KE3_HIGH)),
    "Advection PE1": (K_FINE, B_PE1), "Advection PE2": (K_COARSE, B_PE2),
    "Wind Stress": (K_COARSE, B_WIND), "Buoyancy Forcing": (K_COARSE, B_BUOY),
    "Bottom Drag": (K_COARSE, B_DRAG),
}
PANEL_C = {
    "Sum of Terms": (K_DENSE, dense(C_SUM_LOW, C_SUM_BAND, C_SUM_HIGH)),
    "Advection KE1": (K_DENSE, dense(C_KE1_LOW, C_KE1_BAND, C_KE1_HIGH)),
    "Advection KE2": (K_FINE, C_KE2),
    "Advection KE3": (K_DENSE, dense(C_KE3_LOW, C_KE3_BAND, C_KE3_HIGH)),
    "Advection PE1": (K_FINE, C_PE1), "Advection PE2": (K_COARSE, C_PE2),
    "Wind Stress": (K_FINE, C_WIND), "Buoyancy Forcing": (K_COARSE, C_BUOY),
    "Bottom Drag": (K_DENSE, dense(C_DRAG_LOW, C_DRAG_BAND, C_DRAG_HIGH)),
}

FONT = "DejaVu Sans"
INK = "#222222"
PLOT_W = 622
X_DOMAIN = [2.825e-5, 0.466]
X_TICKS = [m * 10.0 ** e for e in range(-5, 0) for m in range(1, 10)
           if X_DOMAIN[0] <= m * 10.0 ** e <= X_DOMAIN[1]]
DECADE_TEST = "abs(log(datum.value) / LN10 - round(log(datum.value) / LN10)) < 0.001"
X_LABELS = (DECADE_TEST + " ? ['10⁻⁵', '10⁻⁴', '10⁻³', '10⁻²', '10⁻¹', '10⁰']"
            "[round(log(datum.value) / LN10) + 5] : ''")


def long_table(terms):
    rows = []
    for name in TERMS:
        ks, vs = terms[name]
        if len(ks) != len(vs):
            raise ValueError(f"{name}: {len(ks)} frequencies, {len(vs)} values")
        for k, v in zip(ks, vs):
            rows.append({"f": k / RECORD_DAYS, "v": v, "term": name})
    return pd.DataFrame(rows)


def panel(title, terms, y_domain, y_ticks, y_format, height, legend_y, label_y):
    df = long_table(terms)
    x = alt.X(
        "f:Q",
        scale=alt.Scale(type="log", domain=X_DOMAIN, nice=False),
        axis=alt.Axis(
            values=X_TICKS, labelExpr=X_LABELS, title="Frequency (cycles/day)",
            tickSize={"condition": {"test": DECADE_TEST, "value": 4}, "value": 2},
            labelPadding=3, titlePadding=3, labelOverlap=False, labelFlush=False,
        ),
    )
    y = alt.Y(
        "v:Q",
        scale=alt.Scale(domain=y_domain, nice=False, zero=False),
        axis=alt.Axis(values=y_ticks, format=y_format, title="(nW/kg)/(cycles/day)",
                      tickSize=3.5, labelPadding=4, titlePadding=2),
    )
    legend = alt.Legend(
        title=None, orient="none", legendX=477, legendY=legend_y,
        symbolType="stroke", symbolSize=576, symbolStrokeWidth=2.5,
        labelFontSize=11, labelFont=FONT, labelColor=INK, labelOffset=7,
        fillColor="rgba(255,255,255,0.8)", strokeColor="#cccccc",
        cornerRadius=3, padding=3, rowPadding=0, clipHeight=16.7,
    )
    lines = alt.Chart(df).mark_line(strokeWidth=1.4, clip=True).encode(
        x=x, y=y,
        color=alt.Color("term:N", scale=alt.Scale(domain=TERMS, range=TERM_COLORS), legend=legend),
        strokeDash=alt.StrokeDash("term:N", scale=alt.Scale(domain=TERMS, range=TERM_DASHES),
                                  legend=legend),
    )
    zero = alt.Chart(pd.DataFrame({"v": [0.0]})).mark_rule(
        color=INK, strokeWidth=0.8, strokeDash=[1, 1.6]).encode(y=y)
    periods = pd.DataFrame({"f": [1.0 / d for d in PERIOD_DAYS], "label": PERIOD_LABELS})
    vlines = alt.Chart(periods).mark_rule(
        color=INK, strokeWidth=0.8, strokeDash=[1, 1.6]).encode(x=x)
    vtext = alt.Chart(periods).mark_text(
        angle=270, align="right", baseline="bottom", fontSize=13.3, font=FONT, color=INK
    ).encode(x=x, text="label:N", y=alt.value(label_y))
    exponent = alt.Chart(pd.DataFrame({"t": ["1e7"]})).mark_text(
        align="left", baseline="alphabetic", fontSize=12.7, font=FONT, color=INK
    ).encode(text="t:N", x=alt.value(-1), y=alt.value(-1.5))
    head = alt.Chart(pd.DataFrame({"t": [title]})).mark_text(
        align="center", baseline="alphabetic", fontSize=24.4, font=FONT, color="black"
    ).encode(text="t:N", x=alt.value(PLOT_W / 2), y=alt.value(-4))
    return alt.layer(lines, zero, vlines, vtext, exponent, head).properties(
        width=PLOT_W, height=height)


pa = panel("(a) YPC Current Separation (CS)", PANEL_A, [-0.676, 2.95],
           [-0.5, 0.0, 0.5, 1.0, 1.5, 2.0, 2.5], ".1f", 338, 3, 5)
pb = panel("(b) YPC Western Boundary (WB)", PANEL_B, [-5.94, 0.82],
           [-5, -4, -3, -2, -1, 0], "d", 339, 178, 277)
pc = panel("(c) YPC Remainder of Domain (ROD)", PANEL_C, [-1.318, 3.435],
           [-1, 0, 1, 2, 3], "d", 339, 4, 5)

chart = (
    alt.vconcat(pa, pb, pc, spacing=101, bounds="flush")
    .resolve_legend(color="independent", strokeDash="independent")
    .properties(padding={"left": 11, "top": 9, "right": 0, "bottom": 0})
    .configure(font=FONT)
    .configure_view(stroke=INK, strokeWidth=0.8)
    .configure_axis(
        labelFont=FONT, titleFont=FONT, labelFontSize=17, titleFontSize=18,
        titleFontWeight="normal", labelColor="black", titleColor="black",
        domainColor=INK, tickColor=INK, domainWidth=0.8, tickWidth=0.8, grid=False,
    )
)

chart.save("out.html", embed_options={"renderer": "svg", "actions": False})
